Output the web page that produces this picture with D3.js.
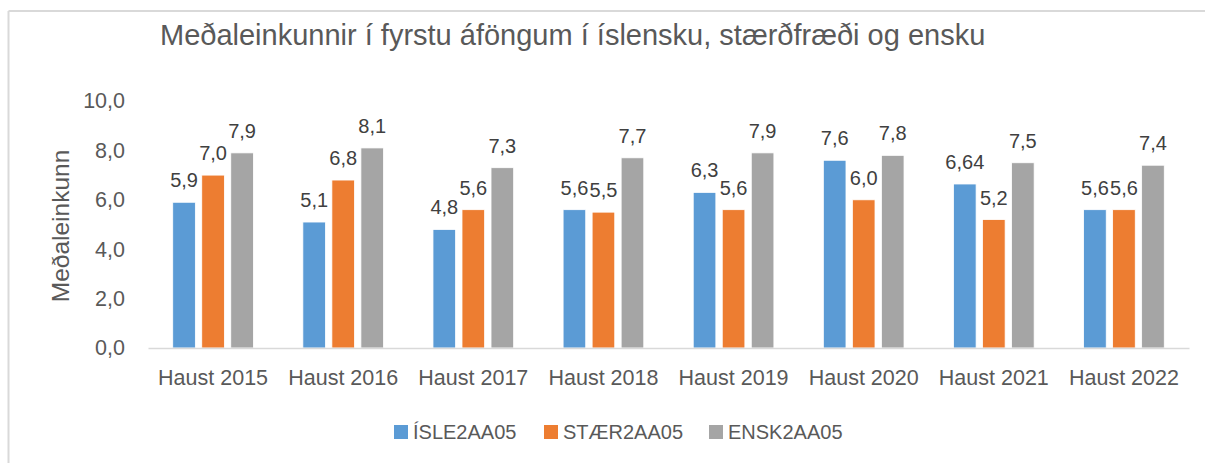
<!DOCTYPE html>
<html>
<head>
<meta charset="utf-8">
<script src="https://cdn.jsdelivr.net/npm/d3@7"></script>
<style>
  html, body { margin: 0; padding: 0; background: #fff; }
  svg text { font-family: "Liberation Sans", Arial, sans-serif; }
</style>
</head>
<body>
<svg id="chart" width="1205" height="463"></svg>
<script>
const categories = ["Haust 2015","Haust 2016","Haust 2017","Haust 2018","Haust 2019","Haust 2020","Haust 2021","Haust 2022"];
const seriesNames = ["ÍSLE2AA05","STÆR2AA05","ENSK2AA05"];
const isleValues = [5.9, 5.1, 4.8, 5.6, 6.3, 7.6, 6.64, 5.6];
const staerValues = [7.0, 6.8, 5.6, 5.5, 5.6, 6.0, 5.2, 5.6];
const enskValues = [7.9, 8.1, 7.3, 7.7, 7.9, 7.8, 7.5, 7.4];
const yTicks = [0, 2, 4, 6, 8, 10];
const colors = ["#5B9BD5", "#ED7D31", "#A5A5A5"];
const titleText = "Meðaleinkunnir í fyrstu áföngum í íslensku, stærðfræði og ensku";
const yTitle = "Meðaleinkunn";

const allSeries = [isleValues, staerValues, enskValues];
const svg = d3.select("#chart");

// border (only top and left visible)
svg.append("line").attr("x1", 8.5).attr("x2", 1205).attr("y1", 11).attr("y2", 11)
  .attr("stroke", "#D9D9D9").attr("stroke-width", 2);
svg.append("line").attr("x1", 8.5).attr("x2", 8.5).attr("y1", 11).attr("y2", 463)
  .attr("stroke", "#D9D9D9").attr("stroke-width", 2);

const x0 = d3.scaleBand().domain(categories).range([148, 1189]).paddingInner(0.38).paddingOuter(0.19);
const x1 = d3.scaleBand().domain(seriesNames).range([0, x0.bandwidth()]).paddingInner(0.22).paddingOuter(0);
const y = d3.scaleLinear().domain([0, 10]).range([348, 101]);

const fmt = v => (Math.abs(v * 10 - Math.round(v * 10)) < 1e-9 ? v.toFixed(1) : v.toFixed(2)).replace(".", ",");

// y axis ticks
const yAxis = d3.axisLeft(y).tickValues(yTicks).tickSize(0).tickPadding(0)
  .tickFormat(d => d.toFixed(1).replace(".", ","));
const yg = svg.append("g").attr("transform", "translate(125,0)").call(yAxis);
yg.select(".domain").remove();
yg.selectAll("text").attr("fill", "#595959").style("font-size", "21.5px")
  .attr("font-family", "Liberation Sans, Arial, sans-serif");

// bars
const groups = svg.append("g").selectAll("g").data(categories).join("g")
  .attr("transform", d => `translate(${x0(d)},0)`);
groups.selectAll("rect")
  .data((c, i) => allSeries.map((s, k) => ({ name: seriesNames[k], v: s[i], k })))
  .join("rect")
  .attr("x", d => x1(d.name))
  .attr("width", x1.bandwidth())
  .attr("y", d => y(d.v))
  .attr("height", d => y(0) - y(d.v))
  .attr("fill", d => colors[d.k])
  .attr("stroke", "#fff").attr("stroke-width", 0.8);

groups.selectAll("text.lbl")
  .data((c, i) => allSeries.map((s, k) => ({ name: seriesNames[k], v: s[i], k })))
  .join("text").attr("class", "lbl")
  .attr("x", d => x1(d.name) + x1.bandwidth() / 2)
  .attr("y", d => y(d.v) - 15)
  .attr("text-anchor", "middle")
  .attr("fill", "#404040")
  .style("font-size", "20px")
  .text(d => fmt(d.v));

// x axis
const xAxis = d3.axisBottom(x0).tickSize(0).tickPadding(0);
const xg = svg.append("g").attr("transform", `translate(0,${y(0)})`).call(xAxis);
xg.select(".domain").attr("stroke", "#D9D9D9").attr("stroke-width", 1.5);
xg.selectAll("text").attr("fill", "#595959").style("font-size", "21.5px")
  .attr("dy", null).attr("y", 37)
  .attr("font-family", "Liberation Sans, Arial, sans-serif");

// title
svg.append("text").attr("x", 160).attr("y", 45)
  .attr("fill", "#595959").style("font-size", "29px")
  .text(titleText);

// y title
svg.append("text").attr("transform", "translate(69,226) rotate(-90)")
  .attr("text-anchor", "middle").attr("fill", "#595959").style("font-size", "24.5px")
  .text(yTitle);

// legend
const legendX = [394, 544, 709];
const lg = svg.append("g").selectAll("g").data(seriesNames).join("g")
  .attr("transform", (d, i) => `translate(${legendX[i]},0)`);
lg.append("rect").attr("x", 0).attr("y", 425).attr("width", 14).attr("height", 14)
  .attr("fill", (d, i) => colors[i]);
lg.append("text").attr("x", 19).attr("y", 439).attr("fill", "#595959")
  .style("font-size", "20px").text(d => d);
</script>
</body>
</html>
